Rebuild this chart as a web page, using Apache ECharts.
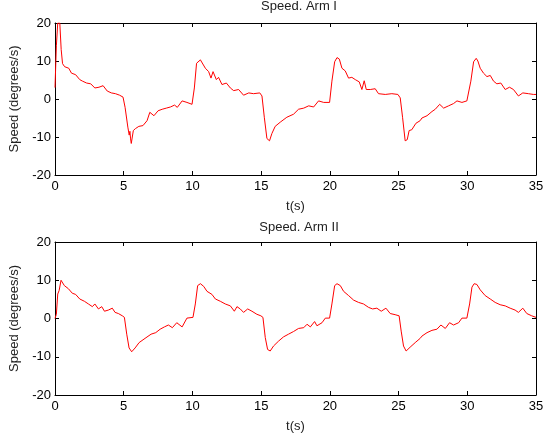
<!DOCTYPE html>
<html lang="en">
<head>
   <meta charset="UTF-8">
   <script type="text/javascript" src="https://cdn.jsdelivr.net/npm/echarts@6/dist/echarts.min.js"></script>
   <title>Speed. Arm I / Arm II</title>
   <style>
      body { margin: 0; background: #fff; }
      #container { width: 547px; height: 436px; }
   </style>
</head>
<body>
   <div id="container"></div>
   <script>
      // time (s) and speed (degrees/s)
      var tArm1 = [0, 0.1, 0.2, 0.35, 0.45, 0.55, 0.7, 1.0, 1.2, 1.5, 1.8, 2.0, 2.3, 2.6, 2.9, 3.2, 3.5, 3.8, 4.1, 4.4, 4.7, 4.95,
         5.1, 5.3, 5.4, 5.45, 5.5, 5.55, 5.7, 5.85, 6.1, 6.4, 6.7, 6.9, 7.2, 7.5, 7.8, 8.1, 8.4, 8.7,
         8.9, 9.25, 9.6, 9.97, 10.14, 10.3, 10.58, 10.7, 10.94, 11.18, 11.35, 11.5, 11.74, 11.9, 12.15, 12.47, 12.76, 13.0, 13.36, 13.72, 14.1, 14.45, 14.9,
         15.06, 15.23, 15.42, 15.61, 15.78, 16.02, 16.39, 16.87, 17.36, 17.72,
         18.1, 18.46, 18.82, 19.18, 19.55, 19.98, 20.15, 20.35, 20.52, 20.69, 20.88, 21.12, 21.36, 21.6, 21.85, 22.14, 22.33, 22.5, 22.65, 22.94, 23.3, 23.54, 24.03, 24.51, 24.95,
         25.12, 25.29, 25.48, 25.63, 25.77, 25.96, 26.26, 26.57, 26.7, 27.07, 27.43, 27.67, 27.99, 28.28, 28.64, 29.0, 29.25, 29.61, 29.97,
         30.1, 30.26, 30.46, 30.65, 30.77, 30.94, 31.18, 31.43, 31.67, 31.91, 32.15, 32.44, 32.76, 33.07, 33.36, 33.72, 34.04, 34.45, 34.81, 35];
      var vArm1 = [3, 14, 20, 20, 13, 9.3, 8.5, 8.1, 6.8, 6.4, 5.1, 4.7, 4.2, 4.0, 2.9, 3.1, 3.5, 2.1, 1.6, 1.4, 1.0, 0.5,
         -2.2, -7.4, -9.5, -8.5, -10.5, -11.7, -8.3, -7.8, -7.2, -7.0, -5.7, -3.5, -4.4, -3.1, -2.7, -2.4, -2.1, -1.6,
         -2.2, -0.5, -0.9, -1.4, 2.9, 9.4, 10.3, 10.7, 8.1, 7.2, 5.5, 7.2, 5.1, 5.7, 3.8, 4.2, 2.9, 2.2, 2.5, 1.0, 1.6, 1.4, 1.6,
         0.8, -4.8, -10.4, -11.0, -9.1, -7.2, -6.1, -4.8, -4.0, -2.7,
         -2.4, -1.8, -2.1, -0.5, -0.9, -0.9, 4.7, 9.8, 10.9, 10.5, 8.1, 7.4, 5.5, 5.7, 5.1, 4.5, 2.5, 4.8, 2.5, 2.5, 2.7, 1.4, 1.2, 1.4, 1.2,
         0.3, -4.8, -11.0, -10.7, -8.3, -8.1, -6.4, -5.7, -5.0, -4.4, -3.3, -2.7, -1.4, -2.4, -1.8, -1.2, -0.5, -0.9, -0.5,
         -0.1, 4.7, 9.8, 10.7, 10.0, 8.1, 6.8, 5.9, 6.2, 4.7, 4.0, 4.2, 2.5, 3.1, 2.5, 0.8, 1.6, 1.4, 1.2, 1.2];

      var tArm2 = [0, 0.1, 0.2, 0.3, 0.44, 0.68, 0.97, 1.26, 1.5, 1.8, 2.14, 2.43, 2.72, 2.9, 3.16, 3.4, 3.6, 3.88, 4.17, 4.37, 4.61, 4.9,
         5.05, 5.22, 5.39, 5.58, 5.83, 6.12, 6.55, 6.99, 7.33, 7.65, 7.96, 8.25, 8.54, 8.86,
         9.25, 9.6, 10.04, 10.21, 10.38, 10.58, 10.82, 11.06, 11.42, 11.67, 12.03, 12.39, 12.76, 13.05, 13.24, 13.48, 13.72, 14.02, 14.33, 14.69, 14.98,
         15.13, 15.3, 15.47, 15.66, 15.9, 16.27, 16.63, 16.99, 17.36, 17.72,
         18.1, 18.34, 18.58, 18.89, 19.06, 19.43, 19.67, 19.98, 20.15, 20.35, 20.52, 20.76, 21.0, 21.36, 21.73, 22.09, 22.45, 22.82, 23.11, 23.42, 23.74, 24.08, 24.39, 24.75, 25.04,
         25.19, 25.36, 25.55, 25.84, 26.21, 26.57, 26.7, 27.07, 27.43, 27.79, 28.08, 28.4, 28.71, 29.0, 29.37, 29.61, 29.97,
         30.17, 30.34, 30.5, 30.7, 30.94, 31.3, 31.67, 32.03, 32.39, 32.76, 33.12, 33.48, 33.72, 34.04, 34.33, 34.69, 35];
      var vArm2 = [0, 1.1, 6.4, 7.3, 10.0, 8.6, 7.8, 6.6, 6.3, 5.1, 4.5, 3.8, 3.1, 3.8, 2.5, 3.1, 1.9, 2.2, 2.7, 1.6, 1.3, 0.7,
         0.3, -4.1, -7.7, -8.7, -7.7, -6.3, -5.2, -4.1, -3.7, -2.8, -2.2, -1.7, -2.4, -1.1,
         -2.2, 0.1, 0.3, 3.8, 8.6, 9.1, 8.4, 7.1, 6.3, 5.1, 4.5, 3.8, 3.3, 1.9, 3.1, 2.5, 1.6, 2.5, 1.9, 1.1, 0.7,
         0.3, -5.0, -8.1, -8.5, -7.2, -5.9, -4.8, -4.1, -3.4, -2.6,
         -2.4, -1.5, -2.2, -0.8, -1.9, -1.1, 0.1, 0.1, 3.8, 8.6, 9.1, 8.6, 7.1, 6.0, 4.8, 4.2, 3.8, 2.9, 2.5, 2.7, 1.9, 2.7, 1.3, 1.0, 0.7,
         -3.3, -7.2, -8.5, -7.5, -6.3, -5.2, -4.6, -3.7, -3.1, -2.8, -1.7, -2.6, -1.1, -1.7, -1.1, 0.1, 0.1,
         3.8, 8.2, 9.1, 8.9, 7.5, 6.0, 5.1, 4.2, 3.6, 3.3, 2.7, 2.2, 1.6, 2.7, 1.3, 0.7, 0.3];

      var titles = ['Speed. Arm I', 'Speed. Arm II'];
      var xName = 't(s)';
      var yName = 'Speed (degrees/s)';

      function pairs(t, v) {
         return t.map(function (x, i) { return [x, v[i]]; });
      }

      var font = 'Liberation Sans, Arial, sans-serif';
      var lineStyle = { color: '#000', width: 1 };
      var tickStyle = { show: true, inside: true, length: 4, lineStyle: { color: '#000', width: 1 } };

      function xAxes(gi) {
         return [
            {
               type: 'value', gridIndex: gi, min: 0, max: 35, interval: 5, position: 'bottom',
               name: xName, nameLocation: 'middle', nameGap: 25,
               nameTextStyle: { color: '#222', fontSize: 13, fontFamily: font },
               axisLine: { onZero: false, lineStyle: lineStyle },
               axisTick: tickStyle, splitLine: { show: false },
               axisLabel: { color: '#000', fontSize: 13, fontFamily: font, margin: 5 }
            },
            {
               type: 'value', gridIndex: gi, min: 0, max: 35, interval: 5, position: 'top',
               axisLine: { onZero: false, lineStyle: lineStyle },
               axisTick: tickStyle, splitLine: { show: false }, axisLabel: { show: false }
            }
         ];
      }

      function yAxes(gi) {
         return [
            {
               type: 'value', gridIndex: gi, min: -20, max: 20, interval: 10, position: 'left',
               name: yName, nameLocation: 'middle', nameGap: 34,
               nameTextStyle: { color: '#222', fontSize: 13, fontFamily: font },
               axisLine: { show: true, onZero: false, lineStyle: lineStyle },
               axisTick: tickStyle, splitLine: { show: false },
               axisLabel: { color: '#000', fontSize: 13, fontFamily: font, margin: 4 }
            },
            {
               type: 'value', gridIndex: gi, min: -20, max: 20, interval: 10, position: 'right',
               axisLine: { show: true, onZero: false, lineStyle: lineStyle },
               axisTick: tickStyle, splitLine: { show: false }, axisLabel: { show: false }
            }
         ];
      }

      var myChart = echarts.init(document.getElementById('container'));

      var option = {
         animation: false,
         backgroundColor: '#fff',
         title: [
            { text: titles[0], left: 294, top: -5, textAlign: 'center',
              textStyle: { color: '#222', fontSize: 13, fontWeight: 'normal', fontFamily: font } },
            { text: titles[1], left: 294, top: 216, textAlign: 'center',
              textStyle: { color: '#222', fontSize: 13, fontWeight: 'normal', fontFamily: font } }
         ],
         grid: [
            { left: 53, right: 11, top: 23, height: 152 },
            { left: 53, right: 11, top: 242, height: 153 }
         ],
         xAxis: xAxes(0).concat(xAxes(1)),
         yAxis: yAxes(0).concat(yAxes(1)),
         series: [
            {
               type: 'line', xAxisIndex: 0, yAxisIndex: 0, data: pairs(tArm1, vArm1),
               showSymbol: false, clip: true, lineStyle: { color: '#ff0000', width: 1 }
            },
            {
               type: 'line', xAxisIndex: 2, yAxisIndex: 2, data: pairs(tArm2, vArm2),
               showSymbol: false, clip: true, lineStyle: { color: '#ff0000', width: 1 }
            }
         ]
      };

      option && myChart.setOption(option);
   </script>
</body>
</html>
